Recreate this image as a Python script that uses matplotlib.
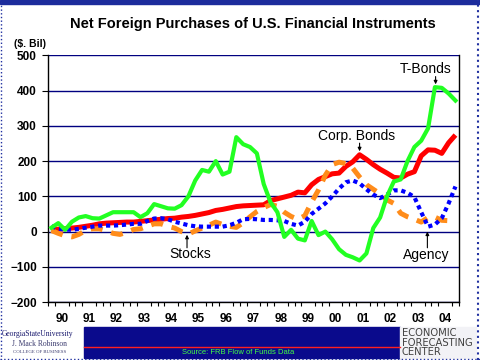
import matplotlib
matplotlib.use("Agg")
import matplotlib.pyplot as plt
from matplotlib.patches import Rectangle
import numpy as np

plt.rcParams['font.family'] = ['Liberation Sans', 'DejaVu Sans']

# quarterly data, 1990Q1 - 2004Q4 ($ billions)
year_labels = ['90', '91', '92', '93', '94', '95', '96', '97',
               '98', '99', '00', '01', '02', '03', '04']

t_bonds = [11, 24, 5, 28, 40, 44, 38, 37, 46, 55,
           55, 55, 55, 41, 52, 78, 72, 66, 65, 75,
           100, 145, 175, 170, 200, 162, 170, 268, 248, 240,
           222, 135, 83, 55, -15, 5, -20, -25, 30, -10,
           0, -22, -50, -66, -73, -82, -62, 10, 40, 100,
           142, 148, 200, 240, 258, 293, 410, 408, 392, 372]

corp_bonds = [5, 7, 8, 10, 12, 15, 18, 22, 24, 25,
              26, 27, 27, 29, 31, 33, 35, 37, 38, 41,
              43, 46, 50, 54, 60, 63, 67, 71, 73, 74,
              75, 76, 88, 93, 98, 103, 112, 110, 133, 148,
              156, 164, 166, 185, 198, 218, 205, 190, 177, 166,
              154, 152, 163, 170, 215, 232, 231, 222, 252, 274]

agency = [15, 8, 6, 5, 8, 11, 14, 17, 17, 17,
          18, 20, 22, 22, 30, 37, 38, 35, 28, 23,
          18, 15, 14, 14, 14, 14, 18, 25, 35, 36,
          35, 33, 33, 32, 30, 22, 17, 28, 50, 65,
          80, 100, 122, 140, 145, 137, 120, 105, 95, 105,
          117, 117, 110, 98, 55, 14, 20, 38, 80, 128]

stocks = [3, -5, -12, -15, -8, 3, 8, 8, 2, -5,
          -8, -2, 6, 8, 15, 22, 22, 15, 10, 0,
          -7, 2, 10, 18, 27, 20, 15, 12, 25, 42,
          57, 68, 77, 72, 55, 43, 35, 45, 84, 118,
          160, 190, 197, 193, 180, 155, 133, 120, 107, 90,
          80, 52, 42, 35, 27, 40, 41, 32, 31, 31]

x = np.arange(len(t_bonds))

fig = plt.figure(figsize=(4.8, 3.6), dpi=100)
fig.patch.set_facecolor('white')
ax = fig.add_axes([0.1, 0.161, 0.856, 0.685])

ax.plot(x, corp_bonds, color='#FF0000', lw=3.6, zorder=3, solid_capstyle='butt')
ax.plot(x, stocks, color='#FF8C1A', lw=3.6, ls=(0, (2.4, 1.8)), zorder=4)
ax.plot(x, agency, color='#0000FF', lw=3.0, ls=(0, (1.0, 0.9)), zorder=5)
ax.plot(x, t_bonds, color='#22FF22', lw=3.0, zorder=6)

ax.set_xlim(-0.5, 59.5)
ax.set_ylim(-200, 500)
ax.set_yticks(range(-200, 501, 100))
ax.yaxis.grid(True, color='#000080', lw=1.0)
ax.set_axisbelow(True)

centers = [4 * i + 1.5 for i in range(len(year_labels))]
ax.set_xticks(centers)
ax.set_xticklabels(year_labels)
ax.set_xticks(np.arange(-0.5, 60, 1), minor=True)
ax.tick_params(axis='x', which='major', length=0, pad=8)
ax.tick_params(axis='x', which='minor', length=3, width=0.8, direction='out')
ax.tick_params(axis='y', length=4, width=0.8, direction='out', pad=4)
for lab in ax.get_xticklabels() + ax.get_yticklabels():
    lab.set_fontweight('bold')
    lab.set_fontsize(8.5)

ax.spines['top'].set_visible(False)
for s in ['left', 'right', 'bottom']:
    ax.spines[s].set_color('black')
    ax.spines[s].set_linewidth(1.0)

# annotations: label text plus a short arrow
arrow = dict(arrowstyle='-|>', color='black', lw=0.8, mutation_scale=5,
             shrinkA=0, shrinkB=0)
notes = [('T-Bonds', (54.7, 462), (56.1, 440), (56.1, 418)),
         ('Corp. Bonds', (44.5, 272), (45.0, 251), (45.0, 228)),
         ('Stocks', (20.3, -64), (19.8, -46), (19.8, -9)),
         ('Agency', (54.7, -66), (54.9, -46), (54.9, 0))]
for label, txt, start, end in notes:
    ax.text(txt[0], txt[1], label, ha='center', va='center', fontsize=10, zorder=7)
    ax.annotate('', xy=end, xytext=start, arrowprops=arrow, zorder=7)

# titles
fig.text(0.527, 1 - 24 / 360, 'Net Foreign Purchases of U.S. Financial Instruments',
         ha='center', va='center', fontsize=10.5, fontweight='bold')
fig.text(0.062, 1 - 44 / 360, '($. Bil)', ha='center', va='center',
         fontsize=7.5, fontweight='bold')

# footer
fig.patches.append(Rectangle((84 / 480, 2 / 360), 316 / 480, 31 / 360,
                             transform=fig.transFigure, color='#0A0A8C', zorder=0))
fig.add_artist(plt.Line2D([84 / 480, 400 / 480], [1 - 347 / 360] * 2,
                          transform=fig.transFigure, color='#FF2020', lw=1.0))
fig.text(238 / 480, 1 - 352.5 / 360, 'Source: FRB Flow of Funds Data', ha='center',
         va='center', fontsize=5.5, color='#44FF44')
fig.patches.append(Rectangle((400 / 480, 2 / 360), 76 / 480, 31 / 360,
                             transform=fig.transFigure, color='#F2F2F6', zorder=0))
for i, w in enumerate(['ECONOMIC', 'FORECASTING', 'CENTER']):
    fig.text(402 / 480, 1 - (333 + 9.7 * i) / 360, w, ha='left', va='center',
             fontsize=7.2, color='#404040', family='DejaVu Sans')
fig.text(38 / 480, 1 - 334 / 360, 'GeorgiaStateUniversity', ha='center', va='center',
         fontsize=5.5, color='#1A1A6E', family='Liberation Serif')
fig.text(40 / 480, 1 - 344 / 360, 'J. Mack Robinson', ha='center', va='center',
         fontsize=5.5, color='#3A3A6E', family='Liberation Serif')
fig.text(40 / 480, 1 - 352 / 360, 'COLLEGE OF BUSINESS', ha='center', va='center',
         fontsize=3.5, color='#3A3A6E', family='Liberation Serif')

# outer border
fig.patches.append(Rectangle((0, 1 - 4 / 360), 1, 4 / 360, transform=fig.transFigure,
                             color='#1C2C9C', zorder=0))
fig.add_artist(plt.Line2D([478 / 480] * 2, [0, 1], transform=fig.transFigure,
                          color='#2030A0', lw=1.5, ls=':'))
fig.add_artist(plt.Line2D([0.5 / 480] * 2, [0, 1], transform=fig.transFigure,
                          color='#2030A0', lw=1.0, ls=':'))
fig.add_artist(plt.Line2D([0, 1], [1.5 / 360] * 2, transform=fig.transFigure,
                          color='#2030A0', lw=1.0, ls=':'))

fig.savefig('out.png', dpi=100)
